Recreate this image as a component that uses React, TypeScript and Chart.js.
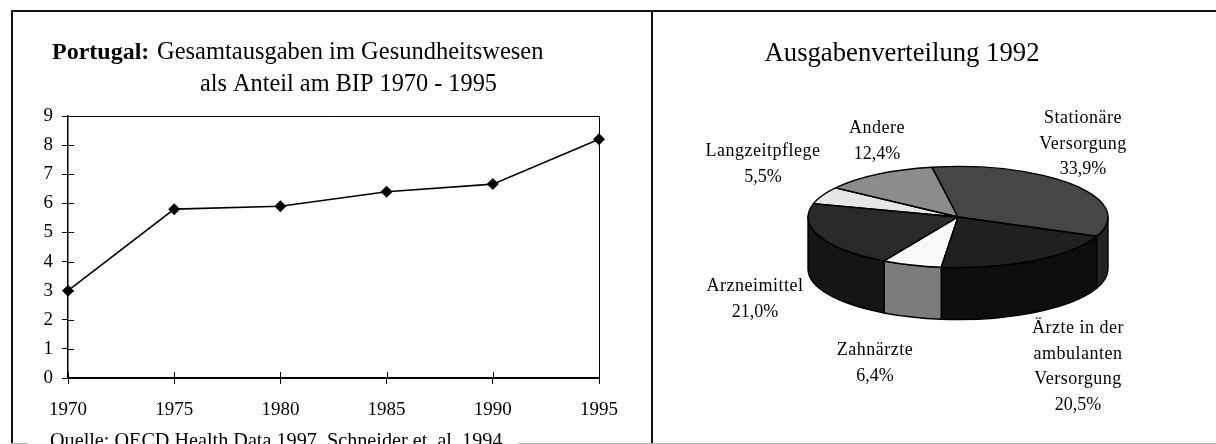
import React, { useEffect, useRef } from "react";
import { Chart, registerables } from "chart.js";

Chart.register(...registerables);

const years = ["1970", "1975", "1980", "1985", "1990", "1995"];
const shareOfGdp = [3.0, 5.8, 5.9, 6.4, 6.66, 8.2];
const yTicks = [0, 1, 2, 3, 4, 5, 6, 7, 8, 9];

const sliceNames = ["Stationäre Versorgung", "Ärzte in der ambulanten Versorgung", "Zahnärzte", "Arzneimittel", "Langzeitpflege", "Andere"];
const sliceValues = [33.9, 20.5, 6.4, 21.0, 5.5, 12.4];
const topColors = ["#464646", "#202020", "#f8f8f8", "#2a2a2a", "#e6e6e6", "#8c8c8c"];
const sideColors = ["#232323", "#0e0e0e", "#7c7c7c", "#151515", "#707070", "#464646"];

const SERIF = '"Liberation Serif"';
const TILT = 0.337;
const DEPTH = 52;

const sliceLabels = [
  { x: 1083, y: 117, lines: ["Stationäre", "Versorgung", "33,9%"] },
  { x: 1078, y: 327, lines: ["Ärzte in der", "ambulanten", "Versorgung", "20,5%"] },
  { x: 875, y: 349, lines: ["Zahnärzte", "6,4%"] },
  { x: 755, y: 285, lines: ["Arzneimittel", "21,0%"] },
  { x: 763, y: 150, lines: ["Langzeitpflege", "5,5%"] },
  { x: 877, y: 127, lines: ["Andere", "12,4%"] },
];

function wallRanges(start: number, end: number) {
  const out: [number, number][] = [];
  for (const k of [-2, 0, 2]) {
    const lo = Math.max(start, k * Math.PI);
    const hi = Math.min(end, (k + 1) * Math.PI);
    if (hi > lo) out.push([lo, hi]);
  }
  return out;
}

const pie3d = {
  id: "pie3d",
  beforeDatasetsDraw(chart: any) {
    const { ctx } = chart;
    const arcs = chart.getDatasetMeta(0).data;
    ctx.save();
    ctx.lineWidth = 1.4;
    ctx.strokeStyle = "#000";
    ctx.lineJoin = "round";
    arcs.forEach((arc: any, i: number) => {
      for (const [lo, hi] of wallRanges(arc.startAngle, arc.endAngle)) {
        ctx.beginPath();
        ctx.ellipse(arc.x, arc.y, arc.outerRadius, arc.outerRadius * TILT, 0, lo, hi, false);
        ctx.ellipse(arc.x, arc.y + DEPTH, arc.outerRadius, arc.outerRadius * TILT, 0, hi, lo, true);
        ctx.closePath();
        ctx.fillStyle = sideColors[i];
        ctx.fill();
        ctx.stroke();
      }
    });
    ctx.restore();
    const a0 = arcs[0];
    ctx.save();
    ctx.translate(0, a0.y);
    ctx.scale(1, TILT);
    ctx.translate(0, -a0.y);
  },
  afterDatasetsDraw(chart: any) {
    const { ctx } = chart;
    ctx.restore();
    const arcs = chart.getDatasetMeta(0).data;
    ctx.save();
    ctx.lineWidth = 1.4;
    ctx.strokeStyle = "#000";
    ctx.lineJoin = "round";
    arcs.forEach((arc: any) => {
      ctx.beginPath();
      ctx.moveTo(arc.x, arc.y);
      ctx.ellipse(arc.x, arc.y, arc.outerRadius, arc.outerRadius * TILT, 0, arc.startAngle, arc.endAngle, false);
      ctx.closePath();
      ctx.stroke();
    });
    ctx.restore();
  },
  afterDraw(chart: any) {
    const { ctx } = chart;
    ctx.save();
    ctx.fillStyle = "#000";
    ctx.textAlign = "center";
    ctx.textBaseline = "alphabetic";
    ctx.font = `26.7px ${SERIF}`;
    ctx.fillText("Ausgabenverteilung 1992", 902 - 652, 61);
    ctx.font = `18px ${SERIF}`;
    sliceLabels.forEach((l) => {
      l.lines.forEach((line, j) => {
        ctx.letterSpacing = line.includes("%") ? "0px" : "0.5px";
        ctx.fillText(line, l.x - 652, l.y + 6 + j * 25.5);
      });
    });
    ctx.restore();
  },
};

const linePlugin = {
  id: "lineDecor",
  afterDatasetsDraw(chart: any) {
    const { ctx, chartArea: a, scales } = chart;
    ctx.save();
    ctx.strokeStyle = "#000";
    ctx.lineWidth = 1;
    ctx.beginPath();
    scales.y.ticks.forEach((_: any, i: number) => {
      const y = Math.round(scales.y.getPixelForTick(i)) + 0.5;
      ctx.moveTo(a.left, y);
      ctx.lineTo(a.left + 6, y);
    });
    scales.x.ticks.forEach((_: any, i: number) => {
      const x = Math.round(scales.x.getPixelForTick(i)) + 0.5;
      ctx.moveTo(x, a.bottom);
      ctx.lineTo(x, a.bottom - 6);
    });
    ctx.stroke();
    ctx.restore();
  },
  afterDraw(chart: any) {
    const { ctx } = chart;
    ctx.save();
    ctx.fillStyle = "#000";
    ctx.textBaseline = "alphabetic";
    ctx.textAlign = "left";
    ctx.font = `bold 24px ${SERIF}`;
    ctx.fillText("Portugal:", 52, 59);
    ctx.font = `24.5px ${SERIF}`;
    ctx.fillText("Gesamtausgaben im Gesundheitswesen", 157, 59);
    ctx.font = `24.3px ${SERIF}`;
    ctx.fillText("als Anteil am BIP 1970 - 1995", 200, 91);
    ctx.fillStyle = "#fff";
    ctx.fillRect(28, 442, 490, 2);
    ctx.fillStyle = "#000";
    ctx.font = `20.2px ${SERIF}`;
    ctx.fillText("Quelle: OECD Health Data 1997, Schneider et. al. 1994", 50, 447);
    ctx.restore();
  },
};

const rule = (x: number, y: number, w: number, h: number, c: string): React.CSSProperties => ({
  position: "fixed", left: x, top: y, width: w, height: h, background: c,
});

export default function App() {
  const lineRef = useRef<HTMLCanvasElement>(null);
  const pieRef = useRef<HTMLCanvasElement>(null);

  useEffect(() => {
    const line = new Chart(lineRef.current!, {
      type: "line",
      data: {
        labels: years,
        datasets: [{
          data: shareOfGdp,
          borderColor: "#000",
          borderWidth: 1.6,
          tension: 0,
          pointStyle: "rectRot",
          pointRadius: 6,
          pointBackgroundColor: "#000",
          pointBorderColor: "#000",
          pointBorderWidth: 0,
          clip: false,
        }],
      },
      options: {
        animation: false,
        responsive: false,
        layout: { padding: { left: 0, right: 51, top: 116, bottom: 0 } },
        plugins: { legend: { display: false }, tooltip: { enabled: false }, title: { display: false } },
        scales: {
          x: {
            type: "category",
            offset: false,
            afterFit: (s: any) => { s.height = 444 - 378; },
            border: { display: true, color: "#000", width: 2 },
            grid: { drawOnChartArea: false, drawTicks: true, tickLength: 6, color: "#000", lineWidth: 1 },
            ticks: { color: "#000", maxRotation: 0, autoSkip: false, padding: 15, font: { family: SERIF, size: 19 } },
          },
          y: {
            min: 0,
            max: 9,
            afterFit: (s: any) => { s.width = 68; },
            afterBuildTicks: (s: any) => { s.ticks = yTicks.map((value) => ({ value })); },
            border: { display: true, color: "#000", width: 1.5 },
            grid: { drawOnChartArea: false, drawTicks: true, tickLength: 6, color: "#000", lineWidth: 1 },
            ticks: { color: "#000", padding: 9, font: { family: SERIF, size: 19 } },
          },
          x2: { display: false },
        },
      },
      plugins: [
        {
          id: "plotBorder",
          beforeDatasetsDraw(chart: any) {
            const { ctx, chartArea: a } = chart;
            ctx.save();
            ctx.strokeStyle = "#000";
            ctx.lineWidth = 1;
            ctx.beginPath();
            ctx.moveTo(a.left, Math.floor(a.top) + 0.5);
            ctx.lineTo(Math.floor(a.right) + 0.5, Math.floor(a.top) + 0.5);
            ctx.lineTo(Math.floor(a.right) + 0.5, a.bottom);
            ctx.stroke();
            ctx.restore();
          },
        },
        linePlugin,
      ],
    } as any);

    const pie = new Chart(pieRef.current!, {
      type: "pie",
      data: {
        labels: sliceNames,
        datasets: [{ data: sliceValues, backgroundColor: topColors, borderWidth: 0, clip: false }],
      },
      options: {
        animation: false,
        responsive: false,
        rotation: -10,
        layout: { padding: { left: 156, right: 108, top: 67, bottom: 77 } },
        plugins: { legend: { display: false }, tooltip: { enabled: false }, title: { display: false } },
      },
      plugins: [pie3d],
    } as any);

    return () => { line.destroy(); pie.destroy(); };
  }, []);

  return (
    <div style={{ position: "fixed", left: 0, top: 0, width: 1216, height: 444, background: "#fff", overflow: "hidden" }}>
      <div style={rule(11, 10, 1205, 2, "#111")} />
      <div style={rule(11, 10, 2, 434, "#111")} />
      <div style={rule(651, 10, 2, 434, "#111")} />
      <div style={rule(11, 443, 1205, 1, "#b4b4b4")} />
      <canvas ref={lineRef} width={650} height={444} style={{ position: "fixed", left: 0, top: 0, background: "transparent" }} />
      <canvas ref={pieRef} width={564} height={444} style={{ position: "fixed", left: 652, top: 0 }} />
    </div>
  );
}
